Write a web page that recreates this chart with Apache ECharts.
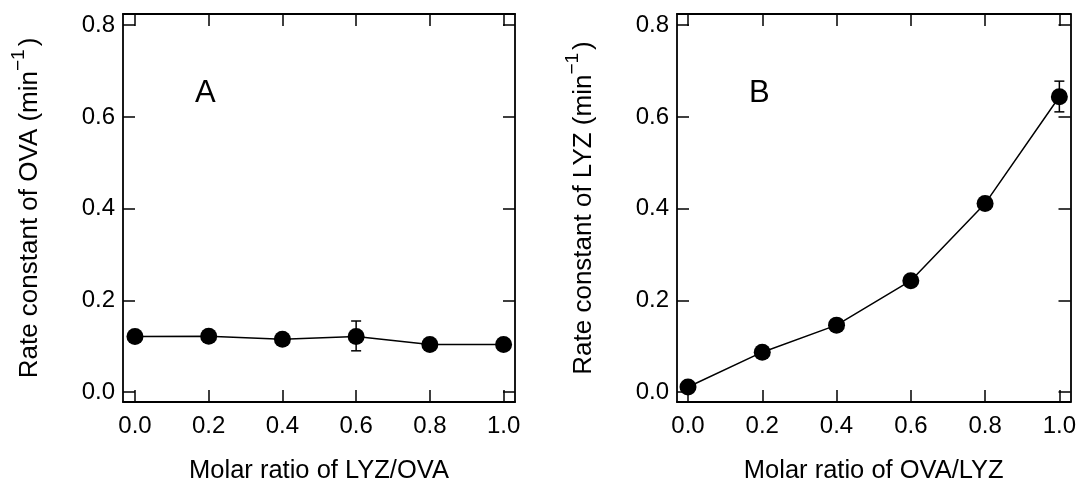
<!DOCTYPE html>
<html>
<head>
<meta charset="utf-8">
<script src="https://cdn.jsdelivr.net/npm/echarts@6/dist/echarts.min.js"></script>
<style>
html,body{margin:0;padding:0;background:#fff;}
#chart{width:1080px;height:489px;}
</style>
</head>
<body>
<div id="chart"></div>
<script>
// ---- data ----
const ratioA = [0.0, 0.2, 0.4, 0.6, 0.8, 1.0];
const rateOVA = [0.121, 0.122, 0.115, 0.121, 0.104, 0.104];
const errA = [[0.6, 0.090, 0.155]]; // [x, low, high]

const ratioB = [0.0, 0.2, 0.4, 0.6, 0.8, 1.0];
const rateLYZ = [0.011, 0.087, 0.146, 0.243, 0.411, 0.644];
const errB = [[1.0, 0.611, 0.678]];

const xTicks = [0.0, 0.2, 0.4, 0.6, 0.8, 1.0];
const yTicks = [0.0, 0.2, 0.4, 0.6, 0.8];

const xTitleA = 'Molar ratio of LYZ/OVA';
const xTitleB = 'Molar ratio of OVA/LYZ';
const yTitleA = 'Rate constant of OVA (min';
const yTitleB = 'Rate constant of LYZ (min';

// ---- chart ----
const FONT = '"Liberation Sans", Arial, Helvetica, sans-serif';
const BLACK = '#000';
const chart = echarts.init(document.getElementById('chart'), null, {renderer: 'canvas'});

const grids = [
  {left: 123, top: 14, width: 392, height: 391},
  {left: 677, top: 14, width: 393.5, height: 391}
];
const xRanges = [[-0.0325, 1.031], [-0.0296, 1.030]];
const yRange = [-0.0216, 0.8244];

function xAxes(i, title) {
  const base = {
    type: 'value', gridIndex: i, min: xRanges[i][0], max: xRanges[i][1],
    splitLine: {show: false},
    axisLine: {show: true, onZero: false, lineStyle: {color: BLACK, width: 1.8}},
    axisTick: {show: true, inside: true, length: 12, customValues: xTicks, lineStyle: {color: BLACK, width: 1.5}}
  };
  return [
    Object.assign({}, base, {
      position: 'bottom',
      axisLabel: {show: true, customValues: xTicks, margin: 12, color: BLACK, fontFamily: FONT, fontSize: 24,
        formatter: v => v.toFixed(1)},
      name: title, nameLocation: 'middle', nameGap: 56,
      nameTextStyle: {color: BLACK, fontFamily: FONT, fontSize: 25.5}
    }),
    Object.assign({}, base, {position: 'top', axisLabel: {show: false}})
  ];
}
function yAxes(i, title) {
  const base = {
    type: 'value', gridIndex: i, min: yRange[0], max: yRange[1],
    splitLine: {show: false},
    axisLine: {show: true, onZero: false, lineStyle: {color: BLACK, width: 1.8}},
    axisTick: {show: true, inside: true, length: 12, customValues: yTicks, lineStyle: {color: BLACK, width: 1.5}}
  };
  return [
    Object.assign({}, base, {
      position: 'left',
      axisLabel: {show: true, customValues: yTicks, margin: 8, color: BLACK, fontFamily: FONT, fontSize: 24,
        formatter: v => v.toFixed(1)},
      name: '{n|' + title + '}{s|\u22121}{p|)}', nameLocation: 'middle', nameGap: 80, nameRotate: 90,
      nameTextStyle: {color: BLACK, fontFamily: FONT, fontSize: 26,
        rich: {
          n: {fontFamily: FONT, fontSize: 26, color: BLACK, lineHeight: 34, verticalAlign: 'bottom'},
          s: {fontFamily: FONT, fontSize: 19, color: BLACK, lineHeight: 34, verticalAlign: 'top'},
          p: {fontFamily: FONT, fontSize: 26, color: BLACK, lineHeight: 34, verticalAlign: 'bottom', padding: [0, 0, 0, 3]}
        }}
    }),
    Object.assign({}, base, {position: 'right', axisLabel: {show: false}})
  ];
}

function errSeries(i, data) {
  return {
    type: 'custom', xAxisIndex: i * 2, yAxisIndex: i * 2, data: data, z: 3,
    renderItem: function (params, api) {
      const x = api.value(0), lo = api.value(1), hi = api.value(2);
      const pHi = api.coord([x, hi]);
      const pLo = api.coord([x, lo]);
      const cw = 5;
      const st = {stroke: BLACK, lineWidth: 1.5};
      return {type: 'group', children: [
        {type: 'line', shape: {x1: pHi[0], y1: pHi[1], x2: pLo[0], y2: pLo[1]}, style: st},
        {type: 'line', shape: {x1: pHi[0] - cw, y1: pHi[1], x2: pHi[0] + cw, y2: pHi[1]}, style: st},
        {type: 'line', shape: {x1: pLo[0] - cw, y1: pLo[1], x2: pLo[0] + cw, y2: pLo[1]}, style: st}
      ]};
    }
  };
}
function lineSeries(i, xs, ys) {
  return {
    type: 'line', xAxisIndex: i * 2, yAxisIndex: i * 2, z: 4,
    data: xs.map((x, k) => [x, ys[k]]),
    symbol: 'circle', symbolSize: 17, showSymbol: true,
    itemStyle: {color: BLACK},
    lineStyle: {color: BLACK, width: 1.5},
    animation: false
  };
}

const option = {
  animation: false,
  backgroundColor: '#fff',
  grid: grids.map(g => Object.assign({containLabel: false}, g)),
  xAxis: [].concat(xAxes(0, xTitleA), xAxes(1, xTitleB)),
  yAxis: [].concat(yAxes(0, yTitleA), yAxes(1, yTitleB)),
  graphic: [
    {type: 'text', left: 195, top: 78, style: {text: 'A', font: '31px ' + FONT, fill: BLACK}},
    {type: 'text', left: 749, top: 78, style: {text: 'B', font: '31px ' + FONT, fill: BLACK}}
  ],
  series: [
    errSeries(0, errA), lineSeries(0, ratioA, rateOVA),
    errSeries(1, errB), lineSeries(1, ratioB, rateLYZ)
  ]
};
chart.setOption(option);
</script>
</body>
</html>
